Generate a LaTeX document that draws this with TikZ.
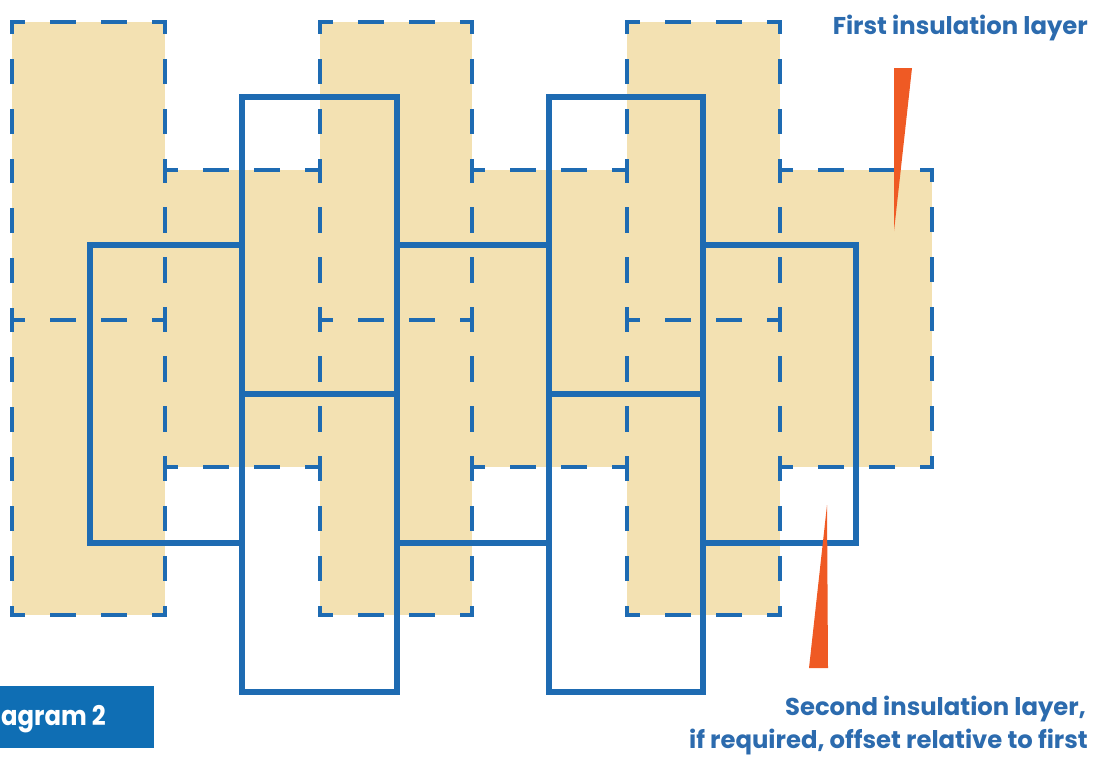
\documentclass[tikz,border=0pt]{standalone}
\usepackage{fontspec}
\setmainfont{Poppins}
\definecolor{tanfill}{HTML}{F3E1B2}
\definecolor{lineblue}{HTML}{1E6BB2}
\definecolor{pointer}{HTML}{EF5A24}
\definecolor{boxblue}{HTML}{0F6EB4}
\definecolor{txtblue}{HTML}{2C6BAE}
\tikzset{
  hdash/.style={draw=lineblue, line width=4pt, line cap=rect, dash pattern=on 21.5pt off 29.5pt, dash phase=10.75pt},
  vdash/.style={draw=lineblue, line width=4pt, line cap=rect, dash pattern=on 20.83pt off 28.83pt, dash phase=10.42pt},
  board/.style={draw=lineblue, line width=5.5pt},
  wedge/.style={fill=pointer, draw=none},
  label/.style={anchor=base east, inner sep=0pt, text=txtblue, font=\bfseries\fontsize{24.3}{30}\selectfont},
}
\begin{document}
\begin{tikzpicture}[x=1pt, y=-1pt]
\useasboundingbox (0,0) rectangle (1094,760);
\clip (0,0) rectangle (1094,760);
% first insulation layer: fills
\foreach \xa/\ya/\xb/\yb in {12/22/165/320, 12/320/165/615, 165/170/320/467,
  320/22/472/320, 320/320/472/615, 472/170/627/467,
  627/22/780/320, 627/320/780/615, 780/170/932/467}{
  \fill[tanfill] (\xa,\ya) rectangle (\xb,\yb);
}
% first insulation layer: dashed outlines
\foreach \xa/\ya/\xb/\yb in {12/22/165/320, 12/320/165/615, 165/170/320/467,
  320/22/472/320, 320/320/472/615, 472/170/627/467,
  627/22/780/320, 627/320/780/615, 780/170/932/467}{
  \draw[hdash] (\xa,\ya) -- (\xb,\ya);
  \draw[hdash] (\xa,\yb) -- (\xb,\yb);
  \draw[vdash] (\xa,\ya) -- (\xa,\yb);
  \draw[vdash] (\xb,\ya) -- (\xb,\yb);
}
% second insulation layer
\foreach \xa/\ya/\xb/\yb in {90/245/242/543, 242/97/397/394, 242/394/397/692,
  397/245/549/543, 549/97/703/394, 549/394/703/692, 703/245/856/543}{
  \draw[board] (\xa,\ya) rectangle (\xb,\yb);
}
% pointers
\fill[wedge] (894,68) -- (912,68) -- (894,231) -- cycle;
\fill[wedge] (827,505) -- (828,668) -- (809,668) -- cycle;
% labels
\node[label] (first) at (1088,35) {First insulation layer};
\node[label] (second) at (1086,715) {Second insulation layer,};
\node[label] (secondb) at (1088,748) {if required, offset relative to first};
% diagram tag
\fill[boxblue] (0,686) rectangle (154,748);
\node[anchor=base east, inner sep=0pt, text=white, font=\bfseries\fontsize{27}{30}\selectfont] (tag) at (106,725) {\scalebox{0.9}[1]{agram 2}};
\end{tikzpicture}
\end{document}
